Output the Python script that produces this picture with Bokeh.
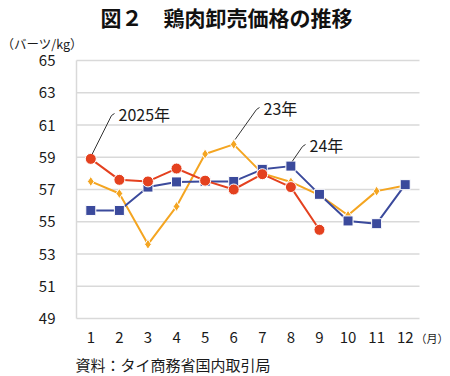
from bokeh.plotting import figure
from bokeh.models import Range1d, Label
from bokeh.core.properties import value
from bokeh.embed import file_html
from bokeh.resources import INLINE

months = list(range(1, 13))
month_labels = [str(m) for m in months]
y_ticks = [49, 51, 53, 55, 57, 59, 61, 63, 65]
y_tick_labels = [str(t) for t in y_ticks]

y2025 = [58.9, 57.6, 57.5, 58.3, 57.55, 57.0, 57.95, 57.15, 54.5]
y2024 = [55.7, 55.7, 57.15, 57.47, 57.5, 57.5, 58.25, 58.45, 56.7, 55.05, 54.88, 57.3]
y2023 = [57.5, 56.75, 53.6, 55.95, 59.2, 59.8, 58.0, 57.47, 56.65, 55.4, 56.9, 57.25]

title_text = "図２　鶏肉卸売価格の推移"
unit_text = "（バーツ/kg）"
month_unit = "（月）"
source_text = "資料：タイ商務省国内取引局"

FONT = "Noto Sans CJK JP"
RED = "#E4411F"
BLUE = "#3B4A9C"
ORANGE = "#F4A521"
GRID = "#d9d9d9"
TXT = "#1a1a1a"

# Layout: plot area in pixels (left, right, top, bottom) on a 450x376 canvas
W, H = 450, 376
L, R, T, B = 76, 419, 60, 318
XMIN, XMAX = 0.5, 12.5
YMIN, YMAX = 49, 65
sx = (R - L) / (XMAX - XMIN)
sy = (B - T) / (YMAX - YMIN)

def dx(px):
    return XMIN + (px - L) / sx

def dy(py):
    return YMAX - (py - T) / sy

p = figure(width=W, height=H, output_backend="svg", toolbar_location=None,
           x_range=Range1d(dx(0), dx(W)), y_range=Range1d(dy(H), dy(0)),
           min_border=0, min_border_left=0, min_border_right=0,
           min_border_top=0, min_border_bottom=0)
p.xaxis.visible = False
p.yaxis.visible = False
p.grid.visible = False
p.outline_line_color = None
p.background_fill_color = "white"
p.border_fill_color = "white"

# gridlines and y axis line
p.segment(x0=[XMIN] * len(y_ticks), x1=[XMAX] * len(y_ticks), y0=y_ticks, y1=y_ticks,
          line_color=GRID, line_width=1.5)
p.segment(x0=[XMIN], x1=[XMIN], y0=[YMIN], y1=[YMAX], line_color=GRID, line_width=1.5)

# tick labels
p.text(x=[dx(55)] * len(y_ticks), y=y_ticks, text=y_tick_labels, text_font=value(FONT),
       text_font_size="15px", text_align="right", text_baseline="middle", text_color=TXT)
p.text(x=months, y=[dy(337)] * len(months), text=month_labels, text_font=value(FONT),
       text_font_size="15px", text_align="center", text_baseline="middle", text_color=TXT)

# series
p.line(months[:len(y2023)], y2023, line_color=ORANGE, line_width=2)
p.scatter(months[:len(y2023)], y2023, marker="diamond", size=10, fill_color=ORANGE,
          line_color="white", line_width=1)

p.line(months[:len(y2024)], y2024, line_color=BLUE, line_width=2)
p.scatter(months[:len(y2024)], y2024, marker="square", size=10, fill_color=BLUE,
          line_color="white", line_width=1)

p.line(months[:len(y2025)], y2025, line_color=RED, line_width=2)
p.scatter(months[:len(y2025)], y2025, marker="circle", size=11, fill_color=RED,
          line_color="white", line_width=1)

# leader lines and series labels
def leader(mx, my, ex, ey, label):
    p.line([mx + 0.05, dx(ex - 3), dx(ex)], [my + 0.3, dy(ey + 2), dy(ey)],
           line_color="#333333", line_width=1)
    p.add_layout(Label(x=dx(ex + 4), y=dy(ey), text=label, text_font=FONT,
                       text_font_size="16px", text_baseline="middle", text_color=TXT))

leader(months[0], y2025[0], 114, 113, "2025年")
leader(months[5], y2023[5], 259, 107, "23年")
leader(months[7], y2024[7], 305, 144, "24年")

# texts outside the plot area
p.add_layout(Label(x=dx(226), y=dy(16), text=title_text, text_font=FONT, text_font_size="21px",
                   text_font_style="bold", text_align="center", text_baseline="middle",
                   text_color="#111111"))
p.add_layout(Label(x=dx(1), y=dy(43), text=unit_text, text_font=FONT, text_font_size="12.5px",
                   text_baseline="middle", text_color=TXT))
p.add_layout(Label(x=dx(415), y=dy(337), text=month_unit, text_font=FONT, text_font_size="11px",
                   text_baseline="middle", text_color=TXT))
p.add_layout(Label(x=dx(75), y=dy(364), text=source_text, text_font=FONT, text_font_size="15px",
                   text_baseline="middle", text_color=TXT))

open("out.html", "w").write(file_html(p, INLINE))
